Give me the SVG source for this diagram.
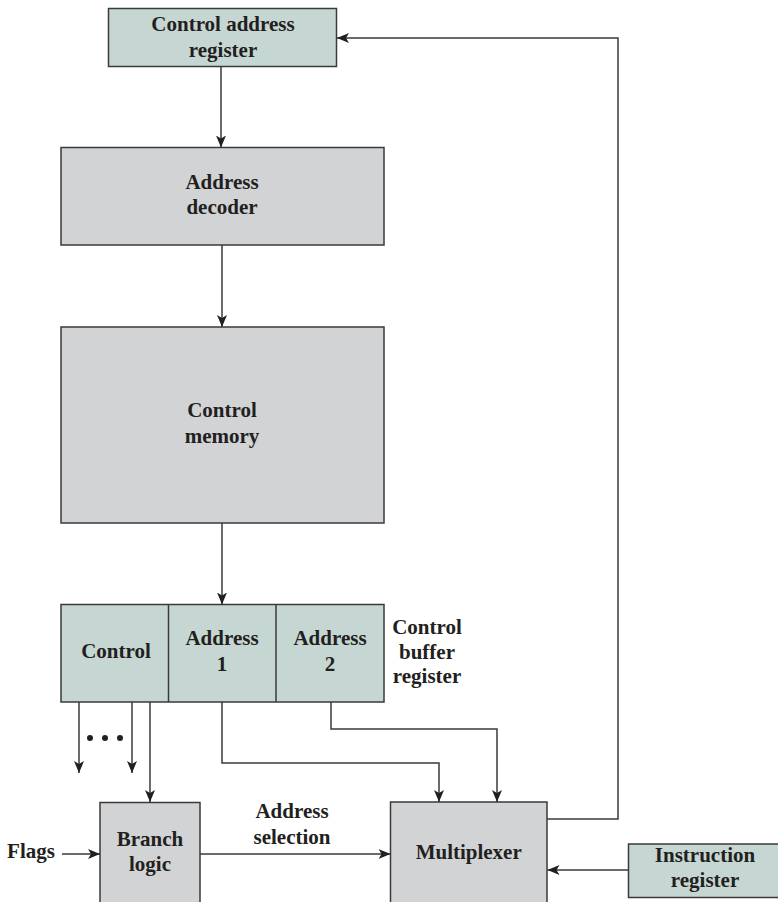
<svg xmlns="http://www.w3.org/2000/svg" width="778" height="902" viewBox="0 0 778 902">
<style>
.box{stroke:#3a3a3a;stroke-width:1.5}
.teal{fill:#c6d7d3}
.gray{fill:#d1d3d4}
.t{font-family:"Liberation Serif","Times New Roman",serif;font-weight:bold;font-size:21px;fill:#231f20;text-anchor:middle}
.ln{fill:none;stroke:#3a3a3a;stroke-width:1.5}
</style>
<defs>
<marker id="ah" markerUnits="userSpaceOnUse" markerWidth="14" markerHeight="10" refX="12" refY="5" orient="auto">
<path d="M0,0 L12,5 L0,10 L3,5 z" fill="#231f20"/>
</marker>
</defs>
<rect width="778" height="902" fill="#fff"/>
<g id="control-address-register">
<rect class="box teal" x="108.5" y="8.5" width="228" height="58"/>
<text class="t" x="223" y="31">Control address</text>
<text class="t" x="223" y="57">register</text>
</g>
<g id="address-decoder">
<rect class="box gray" x="61" y="147.5" width="323" height="97.5"/>
<text class="t" x="222" y="189">Address</text>
<text class="t" x="222" y="214">decoder</text>
</g>
<g id="control-memory">
<rect class="box gray" x="61" y="327" width="323" height="196"/>
<text class="t" x="222" y="417">Control</text>
<text class="t" x="222" y="443">memory</text>
</g>
<g id="control-buffer-register">
<rect class="box teal" x="61" y="604.5" width="323" height="97.5"/>
<line class="ln" x1="168.5" y1="604.5" x2="168.5" y2="702"/>
<line class="ln" x1="276" y1="604.5" x2="276" y2="702"/>
<text class="t" x="116" y="658">Control</text>
<text class="t" x="222" y="645">Address</text>
<text class="t" x="222" y="671">1</text>
<text class="t" x="330" y="645">Address</text>
<text class="t" x="330" y="671">2</text>
<text class="t" x="427" y="634">Control</text>
<text class="t" x="427" y="659">buffer</text>
<text class="t" x="427" y="683">register</text>
</g>
<g id="branch-logic">
<rect class="box gray" x="100" y="802.5" width="100" height="110"/>
<text class="t" x="150" y="846">Branch</text>
<text class="t" x="150" y="871">logic</text>
</g>
<g id="multiplexer">
<rect class="box gray" x="390.5" y="802" width="156.5" height="110"/>
<text class="t" x="468.7" y="859">Multiplexer</text>
</g>
<g id="instruction-register">
<rect class="box teal" x="628.5" y="844" width="151" height="53.5"/>
<text class="t" x="705" y="862">Instruction</text>
<text class="t" x="705" y="887">register</text>
</g>
<g id="labels">
<text class="t" x="31" y="858">Flags</text>
<text class="t" x="292" y="818">Address</text>
<text class="t" x="292" y="844">selection</text>
<circle cx="90" cy="738" r="3" fill="#231f20"/>
<circle cx="105" cy="738" r="3" fill="#231f20"/>
<circle cx="120" cy="738" r="3" fill="#231f20"/>
</g>
<g id="connectors">
<line class="ln" x1="221" y1="66.5" x2="221" y2="147.5" marker-end="url(#ah)"/>
<line class="ln" x1="222" y1="245" x2="222" y2="327" marker-end="url(#ah)"/>
<line class="ln" x1="222" y1="523" x2="222" y2="604.5" marker-end="url(#ah)"/>
<line class="ln" x1="79" y1="702" x2="79" y2="773" marker-end="url(#ah)"/>
<line class="ln" x1="132" y1="702" x2="132" y2="773" marker-end="url(#ah)"/>
<line class="ln" x1="150" y1="702" x2="150" y2="802" marker-end="url(#ah)"/>
<polyline class="ln" points="222,702 222,763 439,763 439,802" marker-end="url(#ah)"/>
<polyline class="ln" points="331,702 331,729 497,729 497,802" marker-end="url(#ah)"/>
<polyline class="ln" points="547,819 618,819 618,38 337,38" marker-end="url(#ah)"/>
<line class="ln" x1="628.5" y1="870" x2="547.5" y2="870" marker-end="url(#ah)"/>
<line class="ln" x1="62" y1="854" x2="100" y2="854" marker-end="url(#ah)"/>
<line class="ln" x1="200" y1="854" x2="390.5" y2="854" marker-end="url(#ah)"/>
</g>
</svg>
